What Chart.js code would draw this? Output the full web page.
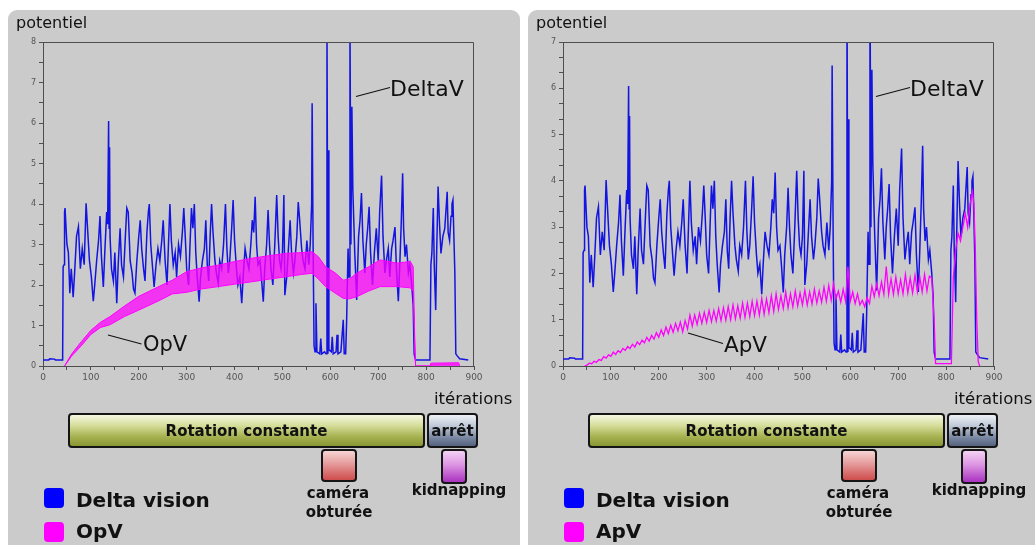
<!DOCTYPE html>
<html><head><meta charset="utf-8">
<script src="https://cdn.jsdelivr.net/npm/chart.js@4.4.1/dist/chart.umd.min.js"></script>
<style>
html,body{margin:0;padding:0;background:#fff;width:1035px;height:545px;overflow:hidden;font-family:'DejaVu Sans',sans-serif;color:#111}
.panel{position:absolute;top:10px;height:560px;background:#cbcbcb;border-radius:9px}
.t{position:absolute;white-space:nowrap;line-height:1}
canvas{position:absolute}
.box{position:absolute;box-sizing:border-box;border:2px solid #151515;border-radius:4px;display:flex;align-items:center;justify-content:center;font-weight:bold;font-size:15px;color:#111}
.rot{background:linear-gradient(to bottom,#f6f8e2 0%,#d4dc98 35%,#a6b150 70%,#8a9634 100%)}
.arr{background:linear-gradient(to bottom,#eef1f6 0%,#b9c3d3 40%,#7684a0 75%,#56637e 100%)}
.cam{background:linear-gradient(to bottom,#f6d4d4 0%,#e59a9a 45%,#cf4c4c 100%)}
.kid{background:linear-gradient(to bottom,#f4d2f4 0%,#dc94e2 45%,#a932c0 100%)}
.sq{position:absolute;width:20px;height:20px;border-radius:4px}
.lg{position:absolute;font-weight:bold;font-size:20px;line-height:1;white-space:nowrap}
.ev{position:absolute;font-weight:bold;font-size:15px;line-height:1;white-space:nowrap;transform:translateX(-50%)}
</style>
</head><body>
<div class="panel" style="left:8px;width:512px"></div>
<div class="panel" style="left:528px;width:520px"></div>

<canvas id="c1" width="512" height="380" style="left:8px;top:10px"></canvas>
<canvas id="c2" width="507" height="380" style="left:528px;top:10px"></canvas>

<svg width="1035" height="545" style="position:absolute;left:0;top:0" xmlns="http://www.w3.org/2000/svg">
  <line x1="108" y1="335" x2="141.5" y2="344" stroke="#111" stroke-width="1.2"/>
  <line x1="356" y1="96.5" x2="390" y2="87.5" stroke="#111" stroke-width="1.2"/>
  <line x1="688" y1="333" x2="723" y2="343.5" stroke="#111" stroke-width="1.2"/>
  <line x1="876" y1="96.5" x2="910" y2="87.5" stroke="#111" stroke-width="1.2"/>
</svg>

<div class="t" style="left:16px;top:15px;font-size:16px">potentiel</div>
<div class="t" style="left:536px;top:15px;font-size:16px">potentiel</div>
<div class="t" style="left:434px;top:391px;font-size:16.5px">itérations</div>
<div class="t" style="left:954px;top:391px;font-size:16.5px">itérations</div>

<div class="t" style="left:390px;top:77.5px;font-size:22px">DeltaV</div>
<div class="t" style="left:143px;top:334px;font-size:21px">OpV</div>
<div class="t" style="left:910px;top:77.5px;font-size:22px">DeltaV</div>
<div class="t" style="left:724px;top:334px;font-size:21.5px">ApV</div>

<!-- left legend -->
<div class="box rot" style="left:68px;top:413px;width:357px;height:35px">Rotation constante</div>
<div class="box arr" style="left:427px;top:413px;width:51px;height:35px">arrêt</div>
<div class="box cam" style="left:321px;top:449px;width:36px;height:33px"></div>
<div class="box kid" style="left:441px;top:449px;width:26px;height:35px"></div>
<div class="ev" style="left:338px;top:485.5px">caméra</div>
<div class="ev" style="left:339px;top:505px">obturée</div>
<div class="ev" style="left:459px;top:482.5px">kidnapping</div>
<div class="sq" style="left:44px;top:488px;background:#0000ff"></div>
<div class="sq" style="left:44px;top:522px;background:#ff00ff"></div>
<div class="lg" style="left:76px;top:489.5px">Delta vision</div>
<div class="lg" style="left:76px;top:521px">OpV</div>

<!-- right legend -->
<div class="box rot" style="left:588px;top:413px;width:357px;height:35px">Rotation constante</div>
<div class="box arr" style="left:947px;top:413px;width:51px;height:35px">arrêt</div>
<div class="box cam" style="left:841px;top:449px;width:36px;height:33px"></div>
<div class="box kid" style="left:961px;top:449px;width:26px;height:35px"></div>
<div class="ev" style="left:858px;top:485.5px">caméra</div>
<div class="ev" style="left:859px;top:505px">obturée</div>
<div class="ev" style="left:979px;top:482.5px">kidnapping</div>
<div class="sq" style="left:564px;top:488px;background:#0000ff"></div>
<div class="sq" style="left:564px;top:522px;background:#ff00ff"></div>
<div class="lg" style="left:596px;top:489.5px">Delta vision</div>
<div class="lg" style="left:596px;top:521px">ApV</div>

<script>
// ---------- DATA ----------
const xTickValues = [0,50,100,150,200,250,300,350,400,450,500,550,600,650,700,750,800,850,900];
const xTickLabels = [0,100,200,300,400,500,600,700,800,900];
const yTicksLeft = [0,1,2,3,4,5,6,7,8];
const yTicksRight = [0,1,2,3,4,5,6,7];

// Delta vision (same signal in both panels)
const deltaIter = [
 0,12,14,24,26,41,42,44,45,46,
 50,53,56,59,63,66,70,74,78,82,
 86,90,93,97,101,105,108,112,116,119,
 122,126,129,133,135,137,138,139,140,143,
 147,150,154,157,161,164,168,172,175,178,
 182,186,189,192,196,200,203,206,210,213,
 217,220,222,225,229,232,236,240,244,248,
 251,255,259,262,265,268,272,276,279,283,
 287,291,294,297,300,304,307,310,313,316,
 319,322,326,329,333,337,340,343,346,349,
 352,355,359,362,366,369,373,377,381,384,
 387,390,394,397,400,404,407,411,415,418,
 422,426,430,434,437,440,443,446,449,453,
 456,460,463,467,470,473,476,480,484,488,
 491,494,497,500,503,505,509,512,516,519,
 523,526,530,533,536,540,543,547,551,555,
 558,561,562,564,566,568,570,572,578,580,
 582,588,591,593,595,596,597,602,604,606,
 612,614,616,622,627,629,632,634,637,639,
 641,643,645,647,651,655,659,662,665,668,
 672,675,678,681,684,688,692,696,700,703,
 707,710,714,717,721,724,728,731,735,738,
 742,745,748,751,753,756,759,763,766,770,
 773,775,778,808,810,812,815,817,820,822,
 825,828,831,835,839,844,846,849,852,854,
 856,858,860,862,865,870,888
];
const deltaVal = [
 0.15,0.15,0.18,0.17,0.15,0.15,2.45,2.5,3.8,3.9,
 3.0,2.8,1.8,2.4,1.7,2.3,3.2,3.44,2.4,2.9,
 2.5,4.02,3.4,2.6,2.2,1.6,2.0,2.6,3.1,3.7,
 2.7,1.95,2.8,3.8,3.5,6.05,3.4,5.4,3.2,2.4,
 2.1,2.8,1.55,2.5,3.4,2.5,2.2,3.2,3.9,3.8,
 2.6,2.3,1.9,1.8,2.6,3.2,3.6,2.9,2.4,2.1,
 3.3,3.8,4.0,3.0,2.4,1.95,2.5,2.9,2.6,3.1,
 3.6,2.6,2.0,3.0,4.0,3.1,2.5,2.8,2.2,3.0,
 2.7,3.3,3.9,3.2,2.4,2.0,3.0,3.9,3.4,4.0,
 2.8,2.2,1.59,2.2,2.6,2.9,3.6,2.5,2.1,3.2,
 4.0,3.3,2.6,2.3,2.05,2.6,2.4,3.0,4.0,2.9,
 2.3,2.6,3.4,4.1,3.1,2.4,2.0,2.2,1.55,2.2,
 2.9,2.6,2.4,3.0,3.6,3.3,4.18,3.0,2.5,2.6,
 2.2,1.59,2.4,3.0,3.85,3.0,2.4,2.0,3.0,4.22,
 3.2,2.6,2.4,2.8,4.22,1.75,2.2,2.8,3.6,2.8,
 2.3,2.6,3.2,4.05,3.6,2.9,2.6,2.4,3.1,2.5,
 3.0,4.0,6.49,3.0,0.5,0.35,1.55,0.35,0.3,0.68,
 0.3,0.35,0.3,8.6,0.3,5.33,0.4,0.35,0.72,0.3,
 0.35,0.77,0.3,0.35,1.14,0.3,0.3,1.1,2.9,2.2,
 8.6,3.0,6.4,4.35,2.8,1.63,3.2,3.6,4.27,3.1,
 2.3,3.0,3.4,3.93,2.8,2.0,2.8,3.4,2.6,3.8,
 4.7,3.2,2.3,2.6,2.9,2.2,2.9,3.1,3.43,2.4,
 1.6,2.5,3.5,4.76,3.4,2.7,3.0,2.3,2.5,2.0,
 1.5,0.3,0.15,0.15,2.5,2.78,3.9,2.5,1.38,2.8,
 4.43,3.5,2.78,3.2,3.4,4.3,3.3,3.1,3.7,4.0,
 4.1,3.2,2.3,0.3,0.25,0.18,0.15
];

// OpV (left panel): band drawn between upper and lower envelope
const opvIter = [45,60,80,100,120,140,170,200,240,270,300,330,366,400,436,470,505,540,562,575,590,610,627,640,655,680,704,739,767,773,776,778,808,810,868,870];
const opvHigh = [0,0.3,0.6,0.88,1.08,1.22,1.48,1.72,1.95,2.12,2.33,2.42,2.49,2.58,2.66,2.72,2.78,2.8,2.82,2.7,2.45,2.3,2.12,2.15,2.29,2.45,2.62,2.54,2.58,2.45,0.8,0,0,0.07,0.08,0];
const opvLow  = [0,0.25,0.5,0.78,0.95,1.02,1.22,1.38,1.6,1.78,1.82,1.9,1.96,2.02,2.08,2.14,2.2,2.26,2.29,2.15,1.96,1.8,1.67,1.66,1.71,1.85,1.96,1.96,1.93,1.85,0.6,0,0,0.02,0.02,0];

// ApV (right panel)
const apvIter = [
 45,50,55,60,65,70,75,80,85,90,95,100,105,110,115,120,125,130,135,140,
 145,150,155,160,165,170,175,180,185,190,195,200,205,210,215,220,225,230,235,240,
 245,250,255,260,265,270,275,280,285,290,295,300,305,310,315,320,325,330,335,340,
 345,350,355,360,365,370,375,380,385,390,395,400,405,410,415,420,425,430,435,440,
 445,450,455,460,465,470,475,480,485,490,495,500,505,510,515,520,525,530,535,540,
 545,550,555,560,565,570,575,580,585,590,595,600,605,610,615,620,625,630,635,640,
 645,650,655,660,665,670,675,680,685,690,695,700,705,710,715,720,725,730,735,740,
 745,750,755,760,765,770,775,778,811,815,820,825,830,835,840,845,850,855,858,861,
 864,867,870
];
const apvVal = [
 0,0.02,0.06,0.05,0.1,0.08,0.14,0.12,0.2,0.17,0.24,0.21,0.3,0.25,0.33,0.29,0.38,0.34,0.42,0.38,
 0.47,0.41,0.52,0.46,0.56,0.5,0.62,0.54,0.66,0.58,0.72,0.62,0.78,0.66,0.84,0.7,0.88,0.73,0.92,0.76,
 0.95,0.74,0.98,0.8,1.1,0.86,1.1,0.9,1.14,0.92,1.16,0.94,1.2,0.96,1.2,0.97,1.24,0.98,1.26,0.99,
 1.28,1.0,1.32,1.02,1.3,1.03,1.36,1.05,1.36,1.07,1.4,1.09,1.4,1.1,1.46,1.12,1.45,1.15,1.52,1.18,
 1.56,1.22,1.52,1.24,1.6,1.26,1.56,1.28,1.62,1.3,1.58,1.32,1.64,1.32,1.6,1.34,1.66,1.36,1.62,1.38,
 1.7,1.4,1.74,1.42,1.78,1.45,1.62,1.38,1.66,1.4,2.15,1.4,1.6,1.35,1.56,1.32,1.42,1.28,1.48,1.35,
 1.72,1.5,1.78,1.52,1.82,1.55,2.15,1.55,1.88,1.55,1.92,1.56,1.86,1.56,1.98,1.58,1.9,1.58,1.96,1.6,
 1.92,1.6,1.98,1.62,1.94,1.9,1.0,0.05,0.05,1.9,2.5,2.87,2.7,3.0,3.3,3.0,3.5,3.77,3.5,2.5,
 1.0,0.1,0
];

// ---------- CHARTS ----------
const BLUE = 'rgb(20,20,225)';
const MAG = '#ff00ff';
const AXIS = '#4e4e4e';

const framePlugin = {
  id: 'frame',
  afterDatasetsDraw(chart) {
    const a = chart.chartArea, ctx = chart.ctx;
    ctx.save();
    ctx.strokeStyle = AXIS; ctx.lineWidth = 1;
    ctx.beginPath();
    ctx.moveTo(Math.round(a.left) + 0.5, Math.round(a.top) + 0.5);
    ctx.lineTo(Math.round(a.right) - 0.5, Math.round(a.top) + 0.5);
    ctx.lineTo(Math.round(a.right) - 0.5, Math.round(a.bottom));
    ctx.stroke();
    ctx.restore();
  }
};

function pts(xs, ys) { return xs.map((x, i) => ({ x: x, y: ys[i] })); }

function makeChart(id, canvasW, yMajor, ySub, extra) {
  const yMax = yMajor[yMajor.length - 1];
  const yMinor = [];
  for (let i = 0; i < yMajor.length - 1; i++)
    for (let k = 0; k < ySub; k++) yMinor.push(yMajor[i] + k / ySub);
  yMinor.push(yMax);
  const datasets = extra.concat([{
    label: 'Delta vision',
    data: pts(deltaIter, deltaVal),
    borderColor: BLUE, borderWidth: 1.5, pointRadius: 0, fill: false, order: 2
  }]);
  return new Chart(document.getElementById(id), {
    type: 'line',
    data: { datasets: datasets },
    options: {
      responsive: false, animation: false, events: [],
      layout: { padding: { left: 0, top: 32, right: canvasW - 466, bottom: 4 } },
      plugins: { legend: { display: false }, tooltip: { enabled: false } },
      elements: { point: { radius: 0 }, line: { tension: 0 } },
      scales: {
        x: {
          type: 'linear', min: 0, max: 900,
          afterBuildTicks: s => { s.ticks = xTickValues.map(v => ({ value: v })); },
          afterFit: s => { s.height = 20; },
          ticks: {
            autoSkip: false, maxRotation: 0, padding: 2, color: '#555',
            font: { family: 'DejaVu Sans', size: 9 },
            callback: v => xTickLabels.includes(v) ? String(v) : ''
          },
          grid: { drawOnChartArea: false, drawTicks: true, tickLength: 4, color: AXIS },
          border: { display: true, color: AXIS, width: 1 }
        },
        y: {
          type: 'linear', min: 0, max: yMax,
          afterBuildTicks: s => { s.ticks = yMinor.map(v => ({ value: v })); },
          afterFit: s => { s.width = 35; },
          ticks: {
            autoSkip: false, padding: 3, color: '#555',
            font: { family: 'DejaVu Sans', size: 8 },
            callback: v => { const r = Math.round(v); return (Math.abs(v - r) < 1e-6 && yMajor.includes(r)) ? String(r) : ''; }
          },
          grid: { drawOnChartArea: false, drawTicks: true, tickLength: 4, color: AXIS },
          border: { display: true, color: AXIS, width: 1 }
        }
      }
    },
    plugins: [framePlugin]
  });
}

makeChart('c1', 512, yTicksLeft, 2, [
  { label: 'OpV', data: pts(opvIter, opvHigh), borderColor: MAG, borderWidth: 1,
    backgroundColor: 'rgba(255,0,255,0.75)', fill: '+1', pointRadius: 0, order: 1 },
  { label: 'OpV bas', data: pts(opvIter, opvLow), borderColor: MAG, borderWidth: 1,
    fill: false, pointRadius: 0, order: 1 }
]);

makeChart('c2', 507, yTicksRight, 3, [
  { label: 'ApV', data: pts(apvIter, apvVal), borderColor: MAG, borderWidth: 1.3,
    fill: false, pointRadius: 0, order: 1 }
]);
</script>
</body></html>
